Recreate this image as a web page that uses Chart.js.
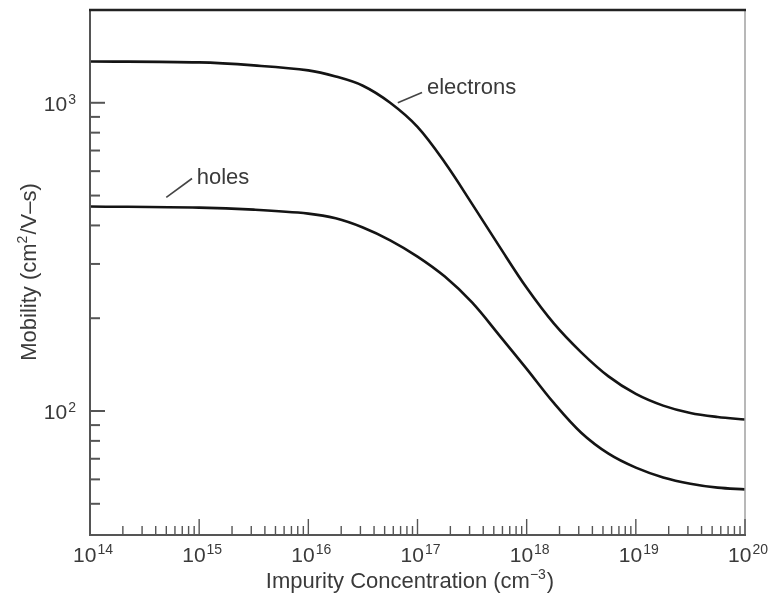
<!DOCTYPE html>
<html lang="en">
<head>
<meta charset="UTF-8">
<title>Mobility vs Impurity Concentration</title>
<script src="https://cdn.jsdelivr.net/npm/chart.js"></script>
<style>
    html, body { margin: 0; padding: 0; background: #fff; }
</style>
</head>
<body>
<canvas id="myChart" width="771" height="601"></canvas>

<script>
    // impurity concentration (cm^-3) and mobility (cm^2/V-s)
    const concentration = [1e14, 1e15, 3.16e15, 1e16, 1.78e16, 3.16e16, 5.62e16,
        1e17, 1.78e17, 3.16e17, 5.62e17, 1e18, 1.78e18, 3.16e18, 5.62e18,
        1e19, 1.78e19, 3.16e19, 5.62e19, 1e20];
    const electrons = [1362, 1352, 1322, 1274, 1217, 1136, 1000,
        835, 640, 470, 342, 251, 192, 155, 129.5,
        113.6, 104.1, 98.5, 95.6, 93.8];
    const holes = [461, 457, 450, 437, 422, 394, 358,
        317, 273, 225, 176, 137, 106, 85.0, 72.7,
        65.5, 60.9, 58.1, 56.4, 55.7];

    const xTickExps = [14, 15, 16, 17, 18, 19, 20];
    const yTickExps = [2, 3];

    // curve labels: [leader start, leader end, text anchor] in data units
    const curveLabels = [
        { text: 'electrons', from: [6.6e16, 1000], to: [1.1e17, 1080], at: [1.22e17, 1121] },
        { text: 'holes', from: [5.0e14, 493], to: [8.6e14, 568], at: [9.5e14, 571] }
    ];

    const FONT = "'Liberation Sans', Arial, Helvetica, sans-serif";
    const TXT = '#3a3a3a';

    function toPoints(ys) {
        return concentration.map((c, i) => ({ x: c, y: ys[i] }));
    }

    function seg(ctx, x1, y1, x2, y2) {
        ctx.beginPath();
        ctx.moveTo(x1, y1);
        ctx.lineTo(x2, y2);
        ctx.stroke();
    }

    // "base" followed by a raised exponent; x is the left edge
    function drawPow(ctx, base, exp, x, baseline, size, expSize, rise) {
        ctx.font = size + 'px ' + FONT;
        ctx.fillText(base, x, baseline);
        const w = ctx.measureText(base).width;
        ctx.font = expSize + 'px ' + FONT;
        ctx.fillText(exp, x + w + 1, baseline - rise);
    }

    function powWidth(ctx, base, exp, size, expSize) {
        ctx.font = size + 'px ' + FONT;
        const a = ctx.measureText(base).width;
        ctx.font = expSize + 'px ' + FONT;
        return a + 1 + ctx.measureText(exp).width;
    }

    // pre + superscript + post, centered at cx
    function drawSupText(ctx, pre, sup, post, cx, baseline, size, supSize, rise) {
        ctx.font = size + 'px ' + FONT;
        const w1 = ctx.measureText(pre).width;
        const w3 = ctx.measureText(post).width;
        ctx.font = supSize + 'px ' + FONT;
        const w2 = ctx.measureText(sup).width;
        let x = cx - (w1 + w2 + w3 + 1) / 2;
        ctx.font = size + 'px ' + FONT;
        ctx.fillText(pre, x, baseline);
        x += w1;
        ctx.font = supSize + 'px ' + FONT;
        ctx.fillText(sup, x, baseline - rise);
        x += w2 + 1;
        ctx.font = size + 'px ' + FONT;
        ctx.fillText(post, x, baseline);
    }

    const framePlugin = {
        id: 'frame',
        afterDraw(chart) {
            const ctx = chart.ctx;
            const a = chart.chartArea;
            const xs = chart.scales.x;
            const ys = chart.scales.y;
            ctx.save();
            ctx.lineCap = 'butt';

            // right border
            ctx.strokeStyle = '#a0a0a0';
            ctx.lineWidth = 1.5;
            seg(ctx, a.right, a.top, a.right, a.bottom);

            // left and bottom axes
            ctx.strokeStyle = '#555';
            ctx.lineWidth = 2;
            seg(ctx, a.left, a.top, a.left, a.bottom + 1);
            seg(ctx, a.left - 1, a.bottom, a.right + 1, a.bottom);

            // top border
            ctx.strokeStyle = '#222';
            ctx.lineWidth = 2.5;
            seg(ctx, a.left - 1, a.top, a.right + 1, a.top);

            // x ticks (pointing up into the plot)
            ctx.strokeStyle = '#555';
            ctx.lineWidth = 1.4;
            for (let e = xTickExps[0]; e <= xTickExps[xTickExps.length - 1]; e++) {
                for (let m = 1; m <= 9; m++) {
                    const v = m * Math.pow(10, e);
                    if (v <= xs.min * 1.0001 || v > xs.max * 1.0001) continue;
                    const px = xs.getPixelForValue(v);
                    const len = m === 1 ? 16 : 9;
                    seg(ctx, px, a.bottom, px, a.bottom - len);
                }
            }

            // y ticks (pointing right into the plot)
            ctx.lineWidth = 2;
            for (let e = 1; e <= 3; e++) {
                for (let m = 1; m <= 9; m++) {
                    const v = m * Math.pow(10, e);
                    if (v < ys.min * 1.02 || v > ys.max * 0.98) continue;
                    const py = ys.getPixelForValue(v);
                    const len = m === 1 ? 15 : 10;
                    seg(ctx, a.left, py, a.left + len, py);
                }
            }

            // tick labels
            ctx.fillStyle = TXT;
            ctx.textBaseline = 'alphabetic';
            ctx.textAlign = 'left';
            xTickExps.forEach(e => {
                const px = xs.getPixelForValue(Math.pow(10, e));
                const w = powWidth(ctx, '10', String(e), 21, 14);
                drawPow(ctx, '10', String(e), px + 3 - w / 2, a.bottom + 27, 21, 14, 8);
            });
            yTickExps.forEach(e => {
                const py = ys.getPixelForValue(Math.pow(10, e));
                const w = powWidth(ctx, '10', String(e), 21, 14);
                drawPow(ctx, '10', String(e), a.left - 14 - w, py + 8, 21, 14, 7);
            });

            // axis titles
            drawSupText(ctx, 'Impurity Concentration (cm', '\u22123', ')', 410, 588, 22, 14, 9);
            ctx.save();
            ctx.translate(36, 272);
            ctx.rotate(-Math.PI / 2);
            drawSupText(ctx, 'Mobility (cm', '2', '/V\u2013s)', 0, 0, 22, 14, 9);
            ctx.restore();

            // curve labels with leader lines
            ctx.strokeStyle = '#444';
            ctx.lineWidth = 1.6;
            ctx.font = '22px ' + FONT;
            ctx.textBaseline = 'middle';
            curveLabels.forEach(l => {
                seg(ctx, xs.getPixelForValue(l.from[0]), ys.getPixelForValue(l.from[1]),
                    xs.getPixelForValue(l.to[0]), ys.getPixelForValue(l.to[1]));
                ctx.fillText(l.text, xs.getPixelForValue(l.at[0]), ys.getPixelForValue(l.at[1]));
            });

            ctx.restore();
        }
    };

    const lineStyle = {
        borderColor: '#141414',
        borderWidth: 2.6,
        pointRadius: 0,
        fill: false,
        tension: 0.35
    };

    new Chart(document.getElementById('myChart'), {
        type: 'line',
        data: {
            datasets: [
                Object.assign({ label: 'electrons', data: toPoints(electrons) }, lineStyle),
                Object.assign({ label: 'holes', data: toPoints(holes) }, lineStyle)
            ]
        },
        options: {
            responsive: false,
            animation: false,
            layout: { padding: { left: 90, right: 26, top: 10, bottom: 66 } },
            scales: {
                x: { type: 'logarithmic', min: 1e14, max: 1e20, display: false },
                y: { type: 'logarithmic', min: 39.6, max: 2000, display: false }
            },
            plugins: {
                legend: { display: false },
                tooltip: { enabled: false }
            }
        },
        plugins: [framePlugin]
    });
</script>
</body>
</html>
